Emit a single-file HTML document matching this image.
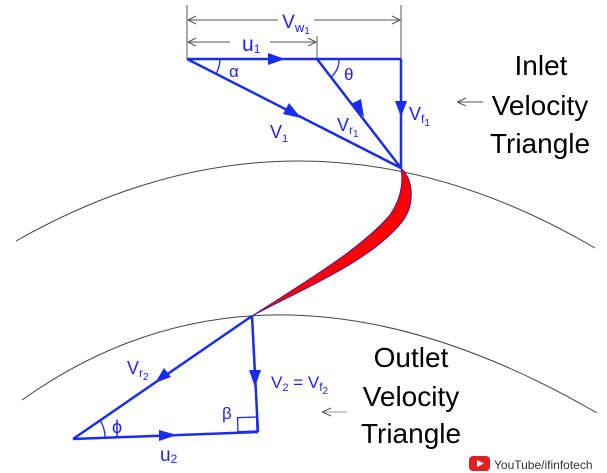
<!DOCTYPE html>
<html><head><meta charset="utf-8"><style>
html,body{margin:0;padding:0;background:#fff;}
svg{display:block;}
text{font-family:"Liberation Sans",sans-serif;}
</style></head><body>
<svg width="607" height="473" viewBox="0 0 607 473" xmlns="http://www.w3.org/2000/svg">
<defs>
<marker id="ga" markerWidth="10" markerHeight="10" refX="0" refY="5" orient="auto" markerUnits="userSpaceOnUse"><path d="M9,1 L0,5 L9,9" fill="none" stroke="#555" stroke-width="1"/></marker>
</defs>
<path d="M16,241 Q304,77.5 595,248" fill="none" stroke="#444" stroke-width="1"/>
<path d="M22,400 Q270.5,223.5 597,413" fill="none" stroke="#444" stroke-width="1"/>
<path d="M401,168 C414,180 415,205 402,222 C370,262 300,290 252,316 C300,285 360,250 390,215 C400,200 404,185 401,168 Z" fill="#ff0000" stroke="#4b1a8a" stroke-width="1"/>
<g stroke="#555" stroke-width="1" fill="none">
<line x1="187" y1="5" x2="187" y2="59"/>
<line x1="401" y1="5" x2="401" y2="59"/>
<line x1="317" y1="36" x2="317" y2="59"/>
<path d="M196,16 L188,20 L196,24 M188,20 L278,20 M314,20 L400,20 M392,16 L400,20 L392,24"/>
<path d="M196,38 L188,42 L196,46 M188,42 L230,42 M270,42 L316,42 M308,38 L316,42 L308,46"/>
</g>
<text x="296" y="28" font-size="19" fill="#2222ee" text-anchor="middle">V<tspan font-size="13" dy="4">w</tspan><tspan font-size="10" dy="2">1</tspan></text>
<text x="242" y="51" font-size="21" fill="#2222ee">u<tspan font-size="12" dy="2">1</tspan></text>
<g stroke="#1a2cf0" stroke-width="2.5" fill="none">
<line x1="187" y1="59" x2="401" y2="59"/>
<line x1="401" y1="59" x2="401" y2="168"/>
<line x1="187" y1="59" x2="401" y2="168"/>
<line x1="317" y1="59" x2="401" y2="168"/>
</g>
<g stroke="#1a2cf0" stroke-width="1.3" fill="none">
<path d="M220,59 A33,33 0 0 1 216,74"/>
<path d="M331,77 A22,22 0 0 0 339,59"/>
</g>
<g fill="#1a2cf0">
<path d="M285,59 L268,53 L268,65 Z"/>
<path d="M401,117 L395,101 L407,101 Z"/>
<path d="M301,118 L283,114 L289,103 Z"/>
<path d="M364,117 L351,104 L361,99 Z"/>
</g>
<g fill="#2222ee">
<text x="229" y="77" font-size="17">α</text>
<text x="344" y="80" font-size="17">θ</text>
<text x="270" y="138" font-size="18">V<tspan font-size="11" dy="4">1</tspan></text>
<text x="337" y="131" font-size="18">V<tspan font-size="12" dy="3">r</tspan><tspan font-size="10" dy="3">1</tspan></text>
<text x="409" y="120" font-size="18">V<tspan font-size="12" dy="3">f</tspan><tspan font-size="10" dy="3">1</tspan></text>
</g>
<g stroke="#1a2cf0" stroke-width="2.5" fill="none">
<line x1="252" y1="316" x2="73" y2="439"/>
<line x1="252" y1="316" x2="258" y2="432"/>
<line x1="73" y1="439" x2="258" y2="432"/>
</g>
<g stroke="#1a2cf0" stroke-width="1.3" fill="none">
<path d="M105,437 A33,33 0 0 0 100,420"/>
<rect x="238" y="417" width="19" height="14" transform="rotate(-2 257 431)"/>
</g>
<g fill="#1a2cf0">
<path d="M155,383 L171,377 L164,368 Z"/>
<path d="M255,387 L249,370 L261,370 Z"/>
<path d="M177,435 L159,430 L159,441 Z"/>
</g>
<g fill="#2222ee">
<text x="127" y="374" font-size="18">V<tspan font-size="12" dy="3">r</tspan><tspan font-size="10" dy="3">2</tspan></text>
<text x="271" y="388" font-size="17">V<tspan font-size="11" dy="3">2</tspan><tspan dy="-3"> = V</tspan><tspan font-size="12" dy="3">f</tspan><tspan font-size="10" dy="3">2</tspan></text>
<text x="222" y="419" font-size="17">β</text>
<text x="112" y="433" font-size="18">ϕ</text>
<text x="160" y="461" font-size="19">u<tspan font-size="12" dy="2">2</tspan></text>
</g>
<g fill="#000" font-size="28" text-anchor="middle">
<text x="541" y="75">Inlet</text>
<text x="540" y="115">Velocity</text>
<text x="540" y="153">Triangle</text>
<text x="411" y="367">Outlet</text>
<text x="411" y="406">Velocity</text>
<text x="411" y="443">Triangle</text>
</g>
<line x1="457" y1="102" x2="483" y2="102" stroke="#555" stroke-width="1" marker-start="url(#ga)"/>
<line x1="322" y1="412" x2="347" y2="412" stroke="#999" stroke-width="1" marker-start="url(#ga)"/>
<rect x="469" y="456" width="21" height="15" rx="4" fill="#e02020"/>
<path d="M477,460 L484,463.5 L477,467 Z" fill="#fff"/>
<text x="494" y="469" font-size="12" fill="#333">YouTube/ifinfotech</text>
</svg>
</body></html>
